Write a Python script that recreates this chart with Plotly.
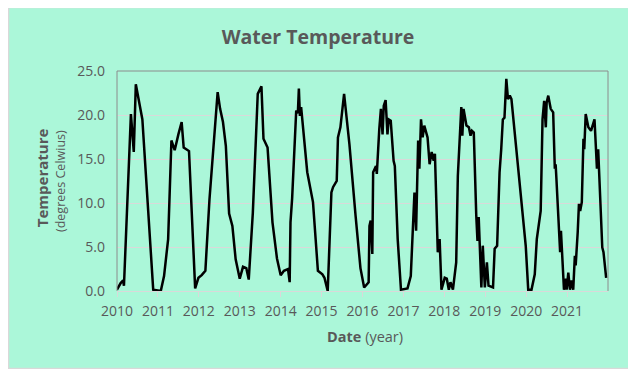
import plotly.graph_objects as go

# ---- data (decimal year, water temperature in deg C) ----
years = [
    2010.00, 2010.09, 2010.15, 2010.17, 2010.34, 2010.41, 2010.46, 2010.62, 2010.885,
    2011.07, 2011.15, 2011.25, 2011.33, 2011.41, 2011.50, 2011.58, 2011.63, 2011.76, 2011.91,
    2011.99, 2012.07, 2012.16, 2012.22, 2012.26, 2012.46, 2012.52, 2012.59, 2012.66, 2012.74,
    2012.82, 2012.90, 2013.00, 2013.08, 2013.16, 2013.22, 2013.32, 2013.44, 2013.53, 2013.58,
    2013.68, 2013.80, 2013.91, 2014.00, 2014.08, 2014.18, 2014.22, 2014.24, 2014.28, 2014.38,
    2014.42, 2014.445, 2014.47, 2014.50, 2014.65, 2014.79, 2014.91, 2015.02, 2015.07, 2015.15,
    2015.24, 2015.28, 2015.37, 2015.40, 2015.46, 2015.55, 2015.68, 2015.83, 2015.95, 2016.04,
    2016.15, 2016.17, 2016.20, 2016.24, 2016.26, 2016.33, 2016.35, 2016.41, 2016.45, 2016.49,
    2016.52, 2016.565, 2016.61, 2016.64, 2016.69, 2016.76, 2016.79, 2016.86, 2016.94, 2017.10,
    2017.18, 2017.27, 2017.31, 2017.36, 2017.39, 2017.43, 2017.47, 2017.51, 2017.55, 2017.59,
    2017.64, 2017.69, 2017.74, 2017.77, 2017.84, 2017.885, 2017.93, 2018.01, 2018.06, 2018.11,
    2018.15, 2018.21, 2018.29, 2018.33, 2018.415, 2018.44, 2018.47, 2018.54, 2018.60, 2018.64,
    2018.675, 2018.72, 2018.78, 2018.81, 2018.84, 2018.87, 2018.905, 2018.94, 2018.99, 2019.04,
    2019.08, 2019.19, 2019.23, 2019.29, 2019.35, 2019.39, 2019.43, 2019.47, 2019.515, 2019.555,
    2019.60, 2019.64, 2019.88, 2019.99, 2020.05, 2020.13, 2020.21, 2020.26, 2020.355, 2020.40,
    2020.44, 2020.48, 2020.50, 2020.54, 2020.60, 2020.66, 2020.70, 2020.72, 2020.74, 2020.83,
    2020.85, 2020.88, 2020.924, 2020.973, 2020.99, 2021.03, 2021.07, 2021.11, 2021.15, 2021.19,
    2021.21, 2021.26, 2021.29, 2021.32, 2021.36, 2021.40, 2021.42, 2021.455, 2021.52, 2021.585,
    2021.67, 2021.70, 2021.73, 2021.76, 2021.80, 2021.86, 2021.89, 2021.955,
]
temps = [
    0.15, 0.9, 1.2, 0.6, 20.1, 15.8, 23.5, 19.5, 0.15,
    0.0, 1.7, 5.9, 17.1, 16.0, 17.8, 19.2, 16.3, 15.9, 0.3,
    1.5, 1.8, 2.3, 7.2, 10.4, 22.6, 20.7, 19.2, 16.5, 8.8,
    7.4, 3.6, 1.4, 2.75, 2.6, 1.3, 8.9, 22.4, 23.25, 17.3,
    16.3, 7.8, 3.7, 1.8, 2.3, 2.5, 1.0, 7.8, 10.5, 20.5,
    20.2, 23.0, 19.9, 20.9, 13.5, 10.1, 2.3, 1.9, 1.5, 0.0,
    11.2, 11.8, 12.5, 17.45, 18.6, 22.4, 16.7, 8.6, 2.6, 0.4,
    1.0, 7.4, 8.0, 4.2, 13.5, 14.2, 13.3, 18.4, 20.7, 17.8,
    21.05, 21.7, 17.8, 19.5, 19.35, 14.8, 14.2, 5.9, 0.15, 0.3,
    1.7, 11.2, 6.85, 17.1, 13.9, 19.5, 17.45, 18.8, 18.2, 17.45,
    14.4, 15.8, 14.8, 15.6, 4.4, 5.9, 0.15, 1.5, 1.4, 0.15,
    1.0, 0.15, 3.25, 13.1, 20.9, 17.65, 20.7, 18.8, 18.6, 17.65,
    18.2, 18.0, 8.6, 5.7, 8.4, 5.5, 0.4, 5.15, 0.4, 3.25,
    0.6, 0.4, 4.8, 5.15, 13.5, 16.1, 19.5, 19.7, 24.1, 21.8,
    22.2, 21.8, 10.0, 5.1, 0.15, 0.15, 1.9, 5.9, 9.1, 19.5,
    21.6, 18.6, 21.4, 22.2, 20.7, 20.3, 13.9, 14.4, 12.7, 4.4,
    6.85, 4.1, 0.15, 1.4, 0.15, 2.1, 0.15, 1.2, 0.15, 4.0,
    2.9, 6.7, 9.9, 9.1, 10.1, 17.3, 16.1, 20.1, 18.6, 18.2,
    19.5, 16.7, 13.9, 16.1, 12.3, 4.95, 4.4, 1.5,
]
tick_years = [2010, 2011, 2012, 2013, 2014, 2015, 2016, 2017, 2018, 2019, 2020, 2021]
tick_labels = [str(y) for y in tick_years]
y_ticks = [0, 5, 10, 15, 20, 25]

# ---- styling ----
# the page body has an 8px margin, so the figure sits at (8, 8) on the page
OFF = 8
W, H = 624, 361
ML, MR, MT, MB = 109, 24, 63, 78
PW, PH = W - ML - MR, H - MT - MB
GREEN = "#abf7d9"
GRID = "#d9d9d9"
TXT = "#595959"
FONT = "Open Sans"


def px_x(p):  # page pixel -> paper x
    return (p - OFF - ML) / PW


def px_y(p):  # page pixel -> paper y
    return (H - MB - (p - OFF)) / PH


fig = go.Figure()
fig.add_trace(go.Scatter(
    x=years, y=temps, mode="lines",
    line=dict(color="black", width=2.5),
    showlegend=False, hoverinfo="x+y",
))

fig.update_layout(
    width=W, height=H,
    template="none",
    margin=dict(l=ML, r=MR, t=MT, b=MB, pad=0),
    paper_bgcolor="white",
    plot_bgcolor=GREEN,
    font=dict(family=FONT, color=TXT, size=14),
    title=dict(
        text="<b>Water Temperature</b>",
        x=(318 - OFF) / W, xref="container", xanchor="center",
        y=1 - (37 - OFF) / H, yref="container", yanchor="middle",
        font=dict(family=FONT, size=19.5, color=TXT),
    ),
    xaxis=dict(
        range=[2010, 2022],
        tickmode="array", tickvals=tick_years, ticktext=tick_labels,
        showgrid=False, zeroline=False,
        showline=True, linecolor=GRID, linewidth=1,
        ticks="outside", ticklen=5, tickcolor=GRID, tickwidth=1,
        ticklabelstandoff=2,
        tickfont=dict(family=FONT, size=14, color=TXT),
    ),
    yaxis=dict(
        range=[0, 25],
        tickmode="array", tickvals=y_ticks, tickformat=".1f",
        showgrid=True, gridcolor=GRID, gridwidth=1,
        zeroline=False, showline=False, ticks="",
        ticklabelstandoff=11,
        tickfont=dict(family=FONT, size=14, color=TXT),
    ),
    shapes=[
        dict(type="rect", xref="paper", yref="paper", layer="below",
             x0=px_x(8.5), x1=px_x(631), y0=px_y(368.5), y1=px_y(7.5),
             fillcolor=GREEN, line=dict(color=GRID, width=1.5)),
        dict(type="path", xref="paper", yref="paper", layer="above",
             path="M 0,0 L 0,1 L 1,1 L 1,0",
             line=dict(color="#8c8c8c", width=1)),
    ],
    annotations=[
        dict(text="<b>Temperature</b>", xref="paper", yref="paper",
             x=px_x(41.7), y=px_y(177.5), textangle=-90,
             xanchor="center", yanchor="middle", showarrow=False,
             font=dict(family=FONT, size=15, color=TXT)),
        dict(text="(degrees Celwius)", xref="paper", yref="paper",
             x=px_x(60), y=px_y(181), textangle=-90,
             xanchor="center", yanchor="middle", showarrow=False,
             font=dict(family=FONT, size=12.5, color=TXT)),
        dict(text="<b>Date</b> (year)", xref="paper", yref="paper",
             x=px_x(365), y=px_y(336),
             xanchor="center", yanchor="middle", showarrow=False,
             font=dict(family=FONT, size=14.5, color=TXT)),
    ],
)

fig.write_html("out.html")
